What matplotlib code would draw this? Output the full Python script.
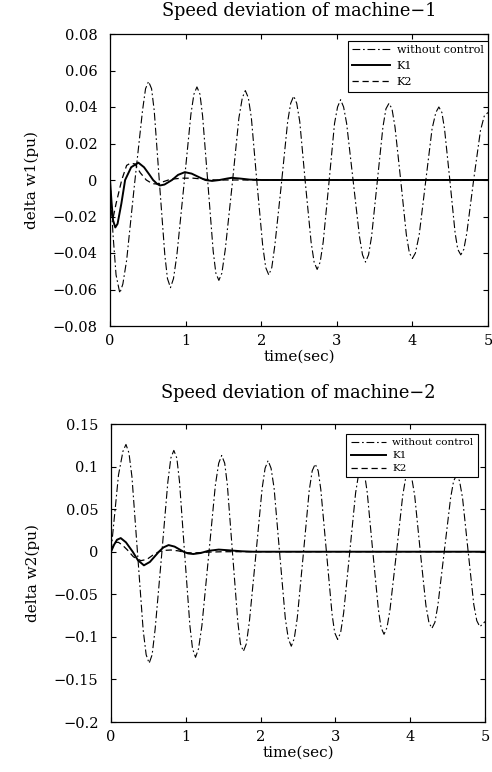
import matplotlib
matplotlib.use('Agg')
import matplotlib.pyplot as plt

# --- machine 1: values ---
t_wc1 = [0.00, 0.04, 0.08, 0.13, 0.17, 0.22, 0.32, 0.43, 0.47, 0.51, 0.55, 0.585,
         0.655, 0.725, 0.76, 0.80, 0.84, 0.885, 0.975, 1.07, 1.11, 1.15, 1.19, 1.225,
         1.295, 1.365, 1.40, 1.44, 1.48, 1.525, 1.615, 1.705, 1.75, 1.79, 1.83, 1.87,
         1.945, 2.02, 2.06, 2.10, 2.14, 2.18, 2.265, 2.35, 2.39, 2.43, 2.47, 2.51,
         2.585, 2.66, 2.70, 2.74, 2.78, 2.82, 2.895, 2.97, 3.01, 3.05, 3.09, 3.13,
         3.215, 3.30, 3.34, 3.38, 3.42, 3.46, 3.535, 3.61, 3.65, 3.69, 3.73, 3.77,
         3.845, 3.92, 3.96, 4.00, 4.04, 4.09, 4.175, 4.26, 4.31, 4.35, 4.39, 4.425,
         4.495, 4.565, 4.60, 4.64, 4.68, 4.72, 4.81, 4.90, 4.95, 5.00]
w1_wc = [0.0, -0.030, -0.052, -0.062, -0.057, -0.044, -0.004, 0.038, 0.050, 0.054, 0.050, 0.038,
         -0.002, -0.041, -0.054, -0.059, -0.054, -0.041, -0.004, 0.036, 0.047, 0.051, 0.047, 0.035,
         -0.002, -0.039, -0.051, -0.055, -0.051, -0.038, -0.003, 0.034, 0.045, 0.049, 0.045, 0.034,
         -0.002, -0.036, -0.048, -0.052, -0.048, -0.036, -0.003, 0.032, 0.042, 0.046, 0.042, 0.032,
         -0.002, -0.034, -0.045, -0.049, -0.045, -0.034, -0.002, 0.031, 0.040, 0.044, 0.040, 0.031,
         0.0, -0.031, -0.041, -0.045, -0.041, -0.031, -0.001, 0.029, 0.039, 0.042, 0.039, 0.029,
         0.0, -0.030, -0.040, -0.043, -0.040, -0.030, -0.001, 0.028, 0.037, 0.040, 0.037, 0.028,
         0.0, -0.029, -0.038, -0.041, -0.038, -0.029, 0.0, 0.027, 0.035, 0.037]

t_k1_1 = [0.0, 0.02, 0.04, 0.07, 0.10, 0.15, 0.20, 0.28, 0.375, 0.45, 0.52, 0.57, 0.62,
          0.66, 0.72, 0.82, 0.90, 0.99, 1.08, 1.18, 1.26, 1.35, 1.45, 1.55, 1.61, 1.72,
          1.85, 2.0, 5.0]
w1_k1 = [0.0, -0.012, -0.022, -0.026, -0.024, -0.013, 0.0, 0.007, 0.0095, 0.007, 0.003, 0.0, -0.002,
         -0.003, -0.0025, 0.0, 0.0028, 0.0043, 0.0035, 0.0015, 0.0, -0.0005, 0.0, 0.0008, 0.0012, 0.0008,
         0.0002, 0.0, 0.0]

t_k2_1 = [0.0, 0.02, 0.04, 0.08, 0.155, 0.22, 0.27, 0.33, 0.40, 0.48, 0.56, 0.62, 0.70,
          0.80, 0.95, 1.10, 1.25, 1.40, 5.0]
w1_k2 = [0.0, -0.018, -0.021, -0.013, 0.0, 0.008, 0.0092, 0.0088, 0.004, 0.0, -0.002, -0.0022, -0.001,
         0.0004, 0.001, 0.001, 0.0004, 0.0, 0.0]

# --- machine 2 ---
t_wc2 = [0.00, 0.05, 0.10, 0.16, 0.20, 0.24, 0.28, 0.355, 0.43, 0.47, 0.51, 0.55, 0.59,
         0.675, 0.76, 0.80, 0.84, 0.88, 0.915, 0.985, 1.055, 1.09, 1.13, 1.17, 1.215,
         1.305, 1.395, 1.44, 1.48, 1.52, 1.555, 1.625, 1.695, 1.73, 1.77, 1.81, 1.85,
         1.935, 2.02, 2.06, 2.10, 2.14, 2.18, 2.255, 2.33, 2.37, 2.41, 2.45, 2.49,
         2.57, 2.65, 2.69, 2.73, 2.77, 2.805, 2.88, 2.955, 2.99, 3.03, 3.07, 3.11,
         3.19, 3.27, 3.31, 3.35, 3.39, 3.425, 3.50, 3.575, 3.61, 3.65, 3.69, 3.73,
         3.815, 3.90, 3.94, 3.98, 4.02, 4.06, 4.135, 4.21, 4.25, 4.29, 4.33, 4.37,
         4.455, 4.54, 4.58, 4.62, 4.66, 4.70, 4.775, 4.85, 4.89, 4.93, 4.97, 5.00]
w2_wc = [0.0, 0.045, 0.090, 0.118, 0.126, 0.116, 0.088, -0.002, -0.092, -0.121, -0.131, -0.121, -0.091,
         -0.006, 0.082, 0.110, 0.119, 0.110, 0.083, -0.003, -0.087, -0.114, -0.124, -0.114, -0.087,
         -0.005, 0.078, 0.104, 0.113, 0.104, 0.079, -0.002, -0.082, -0.108, -0.117, -0.108, -0.082,
         -0.005, 0.074, 0.098, 0.107, 0.098, 0.075, -0.002, -0.078, -0.102, -0.111, -0.102, -0.078,
         -0.004, 0.072, 0.095, 0.103, 0.095, 0.073, 0.0, -0.073, -0.095, -0.103, -0.095, -0.072,
         -0.002, 0.069, 0.091, 0.099, 0.091, 0.070, 0.0, -0.068, -0.089, -0.097, -0.089, -0.068,
         -0.002, 0.066, 0.087, 0.094, 0.087, 0.066, 0.0, -0.063, -0.083, -0.090, -0.083, -0.063,
         0.0, 0.063, 0.083, 0.090, 0.083, 0.063, 0.0, -0.062, -0.081, -0.088, -0.085, -0.082]

t_k1_2 = [0.0, 0.04, 0.08, 0.13, 0.20, 0.29, 0.36, 0.44, 0.52, 0.64, 0.70, 0.77, 0.85,
          0.97, 1.03, 1.10, 1.20, 1.30, 1.44, 1.60, 1.75, 1.90, 5.0]
w2_k1 = [0.0, 0.008, 0.014, 0.016, 0.011, 0.0, -0.010, -0.016, -0.012, 0.0, 0.005, 0.0078, 0.006,
         0.0, -0.002, -0.0027, -0.0015, 0.001, 0.0025, 0.0015, 0.0005, 0.0, 0.0]

t_k2_2 = [0.0, 0.03, 0.07, 0.10, 0.15, 0.22, 0.30, 0.40, 0.48, 0.56, 0.64, 0.70, 0.80,
          0.90, 1.00, 1.10, 1.30, 1.50, 5.0]
w2_k2 = [0.0, 0.008, 0.011, 0.011, 0.008, 0.002, -0.006, -0.0105, -0.009, -0.004, 0.0, 0.0015, 0.002,
         0.001, -0.001, -0.0015, -0.0005, 0.0, 0.0]

x_ticks = [0, 1, 2, 3, 4, 5]
y1_ticks = [0.08, 0.06, 0.04, 0.02, 0, -0.02, -0.04, -0.06, -0.08]
y1_labels = ['0.08', '0.06', '0.04', '0.02', '0', '\u22120.02', '\u22120.04', '\u22120.06', '\u22120.08']
y2_ticks = [0.15, 0.1, 0.05, 0, -0.05, -0.1, -0.15, -0.2]
y2_labels = ['0.15', '0.1', '0.05', '0', '\u22120.05', '\u22120.1', '\u22120.15', '\u22120.2']

legend_labels = ['without control', 'K1', 'K2']

# styles
dashdot = (0, (7, 2.5, 1.5, 2.5))
dashed = (0, (5, 3))

plt.rcParams['font.family'] = ['DejaVu Serif']
plt.rcParams['axes.linewidth'] = 0.9

fig = plt.figure(figsize=(4.92, 7.72), dpi=100)
ax1 = fig.add_axes([110 / 492, 1 - 326 / 772, 378 / 492, 292 / 772])
ax2 = fig.add_axes([111 / 492, 1 - 722 / 772, 374 / 492, 298 / 772])

# per panel: axes, data, ticks, title, legend placement
panels = [
    (ax1, t_wc1, w1_wc, t_k1_1, w1_k1, t_k2_1, w1_k2, y1_ticks, y1_labels, (-0.08, 0.08),
     'Speed deviation of machine\u22121', 'delta w1(pu)', (1.0, 0.977), 13, 8, 0.55),
    (ax2, t_wc2, w2_wc, t_k1_2, w2_k1, t_k2_2, w2_k2, y2_ticks, y2_labels, (-0.2, 0.15),
     'Speed deviation of machine\u22122', 'delta w2(pu)', (0.98, 0.967), 19, 7.5, 0.35),
]

for (ax, tw, yw, ta, ya, tb, yb, yt, yl, ylim, title, ylabel, leg_pos, tpad, leg_fs, leg_sp) in panels:
    ax.plot(tw, yw, color='black', linewidth=0.8, linestyle=dashdot, label=legend_labels[0])
    ax.plot(ta, ya, color='black', linewidth=1.4, linestyle='-', label=legend_labels[1])
    ax.plot(tb, yb, color='black', linewidth=0.9, linestyle=dashed, label=legend_labels[2])

    ax.set_xlim(0, 5)
    ax.set_ylim(*ylim)
    ax.set_xticks(x_ticks)
    ax.set_xticklabels([str(v) for v in x_ticks])
    ax.set_yticks(yt)
    ax.set_yticklabels(yl)
    ax.tick_params(direction='in', top=True, right=True, length=3.5, width=0.8,
                   labelsize=10.5, colors='black')
    ax.tick_params(axis='y', pad=9)
    ax.tick_params(axis='x', pad=6)

    ax.set_title(title, fontsize=12.8, pad=tpad)
    ax.set_xlabel('time(sec)', fontsize=11, labelpad=1)
    ax.set_ylabel(ylabel, fontsize=11, labelpad=10)

    leg = ax.legend(loc='upper right', bbox_to_anchor=leg_pos, fontsize=leg_fs,
                    frameon=True, fancybox=False, framealpha=1, edgecolor='black',
                    handlelength=3.4, handletextpad=0.6, labelspacing=leg_sp,
                    borderpad=0.4, borderaxespad=0.0)
    leg.get_frame().set_linewidth(0.8)

fig.savefig('out.png', dpi=100, facecolor='white')
